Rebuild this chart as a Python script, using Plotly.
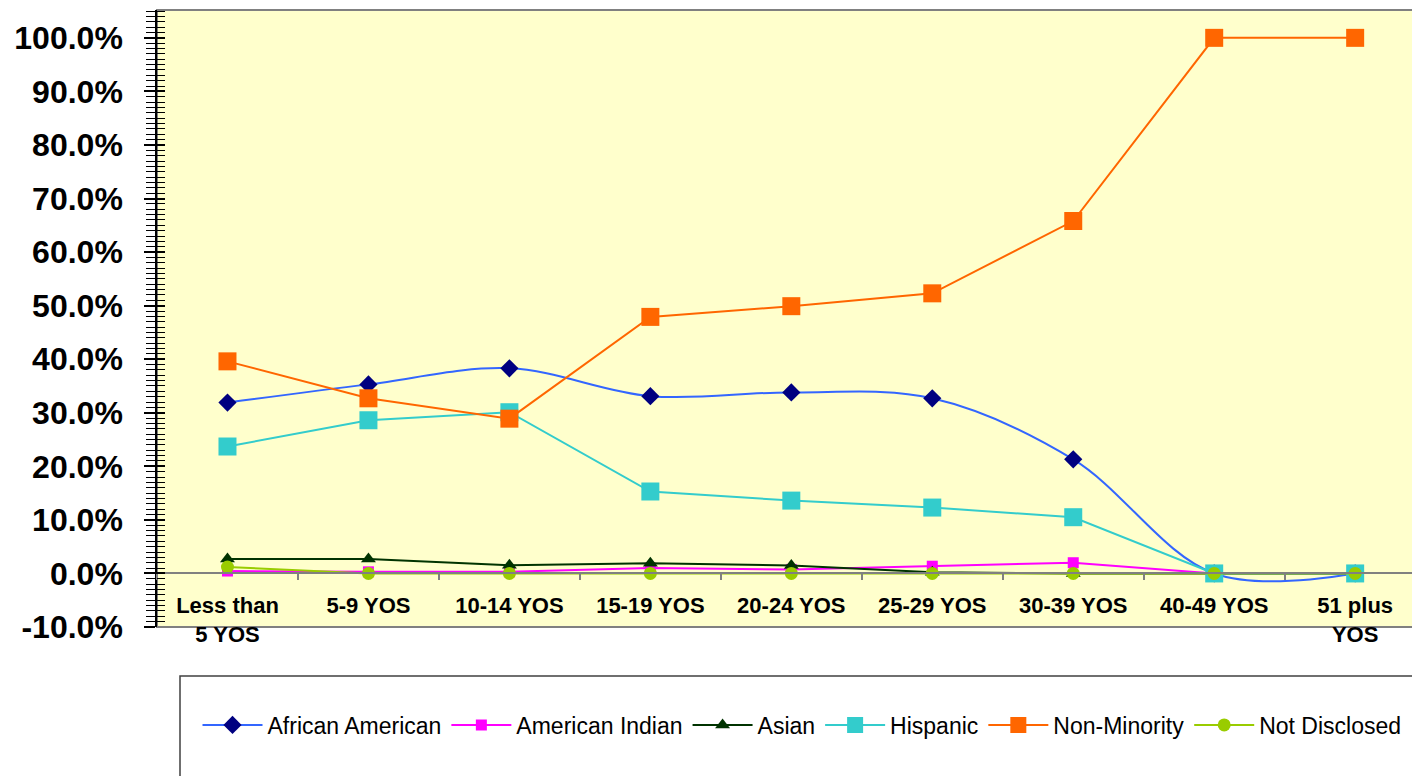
import plotly.graph_objects as go

categories = ["Less than<br>5 YOS", "5-9 YOS", "10-14 YOS", "15-19 YOS", "20-24 YOS",
              "25-29 YOS", "30-39 YOS", "40-49 YOS", "51 plus<br>YOS"]

african_american = [0.319, 0.353, 0.383, 0.331, 0.338, 0.327, 0.213, 0.0, 0.0]
american_indian = [0.0045, 0.003, 0.003, 0.010, 0.0075, 0.0135, 0.020, 0.0, 0.0]
asian = [0.027, 0.027, 0.0155, 0.019, 0.015, 0.002, 0.0, 0.0, 0.0]
hispanic = [0.237, 0.286, 0.301, 0.153, 0.136, 0.123, 0.105, 0.0, 0.0]
non_minority = [0.396, 0.327, 0.289, 0.479, 0.499, 0.523, 0.658, 1.0, 1.0]
not_disclosed = [0.012, 0.0, 0.0, 0.0, 0.0, 0.0, 0.0, 0.0, 0.0]

y_tick_vals = [-0.1, 0.0, 0.1, 0.2, 0.3, 0.4, 0.5, 0.6, 0.7, 0.8, 0.9, 1.0]
y_tick_text = ["-10.0%", "0.0%", "10.0%", "20.0%", "30.0%", "40.0%", "50.0%",
               "60.0%", "70.0%", "80.0%", "90.0%", "100.0%"]

series = [
    ("African American", african_american, "#3366FF", "#000080", "diamond", 14, "spline"),
    ("American Indian", american_indian, "#FF00FF", "#FF00FF", "square", 11, "linear"),
    ("Asian", asian, "#003300", "#003300", "triangle-up", 13, "linear"),
    ("Hispanic", hispanic, "#33CCCC", "#33CCCC", "square", 18, "linear"),
    ("Non-Minority", non_minority, "#FF6600", "#FF6600", "square", 18, "linear"),
    ("Not Disclosed", not_disclosed, "#99CC00", "#99CC00", "circle", 13, "linear"),
]

fig = go.Figure()
for name, vals, lc, mc, sym, size, shape in series:
    fig.add_trace(go.Scatter(
        x=categories, y=vals, name=name, mode="lines+markers",
        line=dict(color=lc, width=2, shape=shape, smoothing=1.0),
        marker=dict(color=mc, symbol=sym, size=size, line=dict(width=0)),
    ))

# dummy trace for overlay axis carrying the inside half of the crossing ticks
fig.add_trace(go.Scatter(x=[categories[0]], y=[None], yaxis="y2", showlegend=False,
                         hoverinfo="skip", mode="lines"))

# page has an 8px body margin: figure coordinates = reference - 8
W, H = 1412, 768
L, T, B = 149, 2, 149
plot_w = W - L
plot_h = H - T - B

yr = [-0.1, 1.052]
fig.update_layout(
    width=W, height=H,
    margin=dict(l=L, r=0, t=T, b=B),
    paper_bgcolor="white",
    plot_bgcolor="#FFFFCC",
    font=dict(family="Liberation Sans, Arial, sans-serif", color="black"),
    xaxis=dict(
        type="category", range=[-0.5, 8.46], anchor="free",
        position=(619 - 565) / plot_h,
        showline=True, linecolor="#808080", linewidth=2,
        ticks="outside", tickson="boundaries", ticklen=6, tickcolor="#808080", tickwidth=1.5,
        tickfont=dict(size=22, weight="bold", family="Liberation Sans, Arial, sans-serif"),
        showgrid=False, zeroline=False, ticklabelstandoff=13,
    ),
    yaxis=dict(
        range=yr, tickmode="array", tickvals=y_tick_vals, ticktext=y_tick_text,
        showline=True, linecolor="black", linewidth=1.5,
        ticks="outside", ticklen=11, tickcolor="black", tickwidth=1.5,
        minor=dict(dtick=0.01, tick0=0, ticks="outside", ticklen=9, tickcolor="black", tickwidth=1),
        tickfont=dict(size=32, weight="bold", family="Liberation Sans, Arial, sans-serif"),
        showgrid=False, zeroline=False, ticklabelstandoff=15,
    ),
    yaxis2=dict(
        range=yr, overlaying="y", side="left", anchor="x", tickmode="array",
        tickvals=y_tick_vals,
        showline=False, showticklabels=False,
        ticks="inside", ticklen=8, tickcolor="black", tickwidth=1.5,
        minor=dict(dtick=0.01, tick0=0, ticks="inside", ticklen=8, tickcolor="black", tickwidth=1),
        showgrid=False, zeroline=False,
    ),
    showlegend=True,
    legend=dict(
        orientation="h", x=(794 - L) / plot_w, xanchor="center",
        y=(619 - 717) / plot_h, yanchor="middle",
        font=dict(size=23, family="Liberation Sans, Arial, sans-serif"),
        bgcolor="rgba(0,0,0,0)", itemwidth=60, itemclick=False,
    ),
    shapes=[
        dict(type="rect", xref="paper", yref="paper", x0=0, x1=1.01, y0=0, y1=1,
             line=dict(color="#808080", width=2), fillcolor="rgba(0,0,0,0)", layer="below"),
        dict(type="rect", xref="paper", yref="paper",
             x0=(172 - L) / plot_w, x1=(1410 - L) / plot_w,
             y0=-(780 - 619) / plot_h, y1=-(668 - 619) / plot_h,
             line=dict(color="#404040", width=1.5), fillcolor="rgba(0,0,0,0)"),
    ],
)

fig.write_html("out.html")
